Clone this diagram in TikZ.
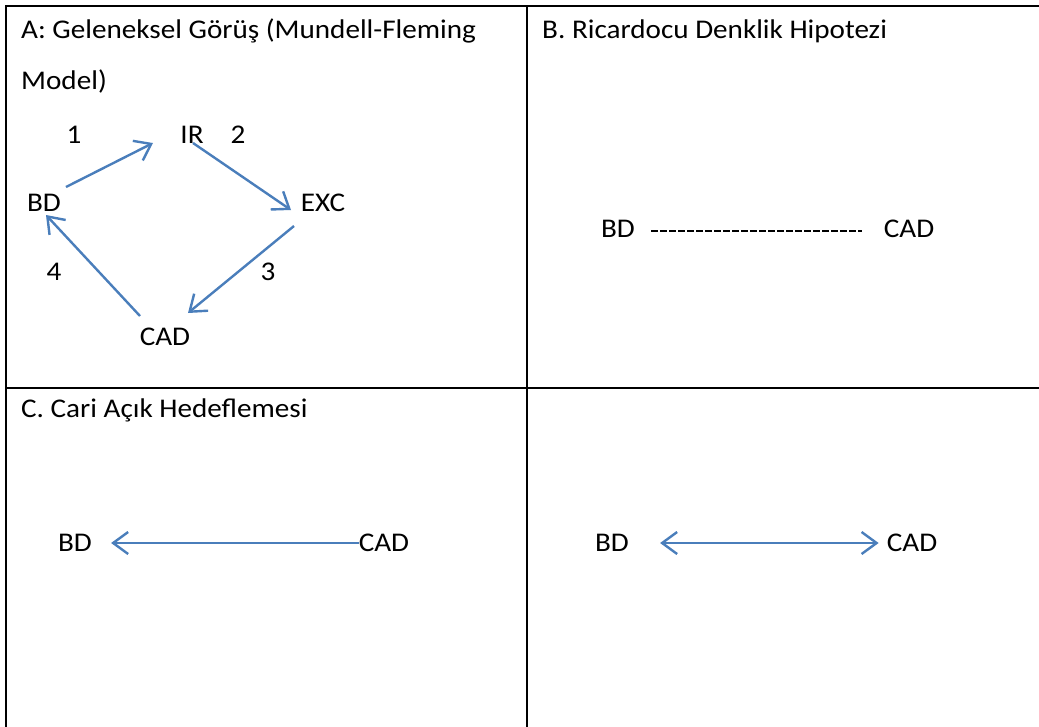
\documentclass[tikz,border=0pt]{standalone}
\usepackage{fontspec}
\setmainfont{Carlito}[FakeStretch=1.08]
\usetikzlibrary{arrows.meta}
\definecolor{lineblue}{RGB}{74,126,187}
\tikzset{x=1pt, y=-1pt,
every node/.style={ % Text of the table cells
inner sep=0pt,
font=\fontsize{27}{51}\selectfont},
title/.style={anchor=base west, align=left},
frame/.style={line width=2.4pt, line cap=rect},
arr/.style={ % Blue arrows with open heads
draw=lineblue,
line width=2.4pt,
-{Straight Barb[length=15pt,width=22pt,line width=2.4pt]}},
dbl/.style={arr, {Straight Barb[length=15pt,width=22pt,line width=2.4pt]}-{Straight Barb[length=15pt,width=22pt,line width=2.4pt]}},
dashline/.style={draw, line width=1.4pt, dash pattern=on 6.4pt off 2.6pt}}

\begin{document}
\begin{tikzpicture}
\useasboundingbox (0,0) rectangle (1039,726);
% table lines
\draw[frame] (6,726) -- (6,6) -- (1039,6);
\draw[frame] (527,6) -- (527,726);
\draw[frame] (6,388) -- (1039,388);
% titles
\node[title] (tA) at (21,89) {A: Geleneksel Görüş (Mundell-Fleming\\Model)};
\node[title] (tB) at (542,38) {B. Ricardocu Denklik Hipotezi};
\node[title] (tC) at (21,417) {C. Cari Açık Hedeflemesi};
% panel A
\node (IR) at (192,135) {IR};
\node (BD) at (44,203) {BD};
\node (EXC) at (323,203) {EXC};
\node (CAD) at (165,337) {CAD};
\node (n1) at (74,135) {1};
\node (n2) at (238,135) {2};
\node (n3) at (268,272) {3};
\node (n4) at (54,272) {4};
\draw[arr] ([shift={(22,-16)}]BD.center) -- ([shift={(-39,8)}]IR.center);
\draw[arr] ([shift={(1,8)}]IR.center) -- ([shift={(-32,7)}]EXC.center);
\draw[arr] ([shift={(-29,23)}]EXC.center) -- ([shift={(23,-24)}]CAD.center);
\draw[arr] ([shift={(-25,-21)}]CAD.center) -- ([shift={(2,12)}]BD.center);
% panel B
\node (BDb) at (618,229) {BD};
\node (CADb) at (909,229) {CAD};
\draw[dashline] ([shift={(16,2)}]BDb.east) -- ([shift={(-22,2)}]CADb.west);
% panel C
\node (BDc) at (75,543) {BD};
\node (CADc) at (384,543) {CAD};
\draw[arr] (CADc.west) -- ([xshift=19]BDc.east);
% panel D
\node (BDd) at (612,543) {BD};
\node (CADd) at (912,543) {CAD};
\draw[dbl] ([xshift=31]BDd.east) -- ([xshift=-8]CADd.west);
\end{tikzpicture}
\end{document}
